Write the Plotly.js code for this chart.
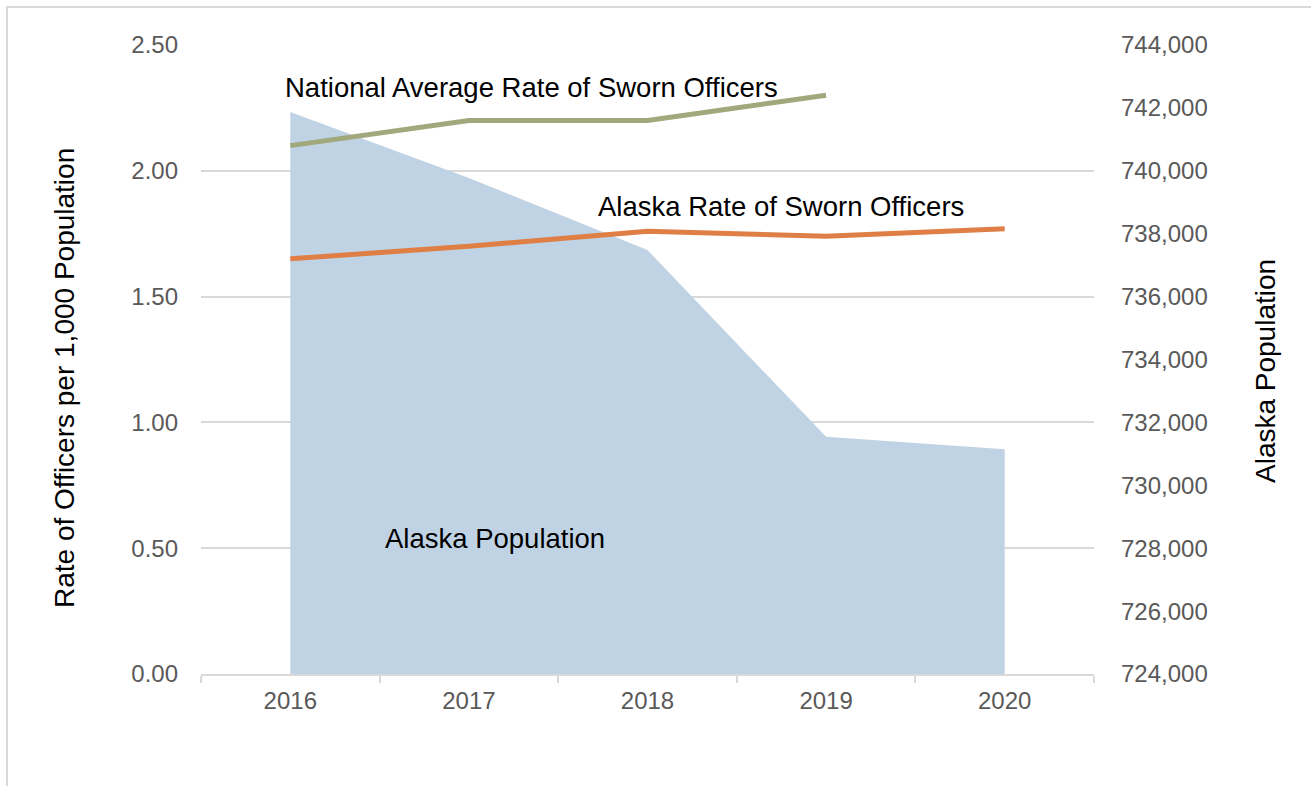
<!DOCTYPE html>
<html>
<head>
<meta charset="utf-8">
<script src="https://cdn.plot.ly/plotly-3.0.1.min.js"></script>
<style>
  html, body { margin: 0; padding: 0; background: #fff; }
  #wrap { position: relative; width: 1311px; height: 786px; }
  #chart { width: 1311px; height: 786px; }
  #frame { position: absolute; left: 6px; top: 6px; width: 1400px; height: 900px;
           border-left: 2px solid #d9d9d9; border-top: 2px solid #d9d9d9; pointer-events: none; }
</style>
</head>
<body>
<div id="wrap">
  <div id="chart"></div>
  <div id="frame"></div>
</div>
<script>
const years = ['2016', '2017', '2018', '2019', '2020'];
const alaskaPopulation = [741870, 739770, 737480, 731540, 731150];
const nationalRate = [2.10, 2.20, 2.20, 2.30];
const nationalYears = ['2016', '2017', '2018', '2019'];
const alaskaRate = [1.65, 1.70, 1.76, 1.74, 1.77];

const popTicks = [724000, 726000, 728000, 730000, 732000, 734000, 736000, 738000, 740000, 742000, 744000];
const rateTicks = [0, 0.5, 1.0, 1.5, 2.0, 2.5];

const tickFont = { family: 'Liberation Sans, Arial, sans-serif', size: 24, color: '#595959' };
const textFont = { family: 'Liberation Sans, Arial, sans-serif', size: 27.5, color: '#000000' };
const titleFont = { family: 'Liberation Sans, Arial, sans-serif', size: 28, color: '#000000' };

const traces = [
  {
    x: years, y: alaskaPopulation, type: 'scatter', mode: 'lines',
    fill: 'tozeroy', fillcolor: '#c0d3e4', line: { width: 0, color: '#c0d3e4' },
    yaxis: 'y', name: 'Alaska Population', hoverinfo: 'x+y'
  },
  {
    x: nationalYears, y: nationalRate, type: 'scatter', mode: 'lines',
    line: { color: '#a0a87c', width: 5 }, yaxis: 'y2',
    name: 'National Average Rate of Sworn Officers'
  },
  {
    x: years, y: alaskaRate, type: 'scatter', mode: 'lines',
    line: { color: '#df7e45', width: 5 }, yaxis: 'y2',
    name: 'Alaska Rate of Sworn Officers'
  }
];

const layout = {
  width: 1311, height: 786,
  margin: { l: 201, r: 217, t: 45, b: 112 },
  paper_bgcolor: '#ffffff', plot_bgcolor: 'rgba(0,0,0,0)',
  showlegend: false,
  xaxis: {
    type: 'category', range: [-0.5, 4.5],
    tickson: 'boundaries', ticks: 'outside', ticklen: 7, tickwidth: 2, tickcolor: '#d9d9d9',
    showline: true, linecolor: '#d9d9d9', linewidth: 2,
    showgrid: false, zeroline: false, tickfont: tickFont, ticklabelstandoff: 4
  },
  yaxis: {
    range: [724000, 744000], side: 'right', tickvals: popTicks,
    tickformat: ',d', showgrid: false, zeroline: false, showline: false, ticks: '',
    tickfont: tickFont, ticklabelstandoff: 26
  },
  yaxis2: {
    overlaying: 'y', side: 'left', range: [0, 2.5], tickvals: rateTicks,
    tickformat: '.2f', showgrid: true, gridcolor: '#d9d9d9', gridwidth: 2,
    zeroline: false, showline: false, ticks: '', tickfont: tickFont, ticklabelstandoff: 22
  },
  annotations: [
    { text: 'Rate of Officers per 1,000 Population', xref: 'paper', yref: 'paper',
      x: -0.1523, y: 0.4706, xanchor: 'center', yanchor: 'middle', textangle: -90,
      showarrow: false, font: titleFont },
    { text: 'Alaska Population', xref: 'paper', yref: 'paper',
      x: 1.1915, y: 0.4817, xanchor: 'center', yanchor: 'middle', textangle: -90,
      showarrow: false, font: titleFont },
    { text: 'National Average Rate of Sworn Officers', xref: 'paper', yref: 'paper',
      x: 0.092, y: 0.933, xanchor: 'left', yanchor: 'middle', showarrow: false, font: textFont },
    { text: 'Alaska Rate of Sworn Officers', xref: 'paper', yref: 'paper',
      x: 0.442, y: 0.7425, xanchor: 'left', yanchor: 'middle', showarrow: false, font: textFont },
    { text: 'Alaska Population', xref: 'paper', yref: 'paper',
      x: 0.204, y: 0.216, xanchor: 'left', yanchor: 'middle', showarrow: false, font: textFont }
  ]
};

Plotly.newPlot('chart', traces, layout, { displayModeBar: false, staticPlot: true });
</script>
</body>
</html>
